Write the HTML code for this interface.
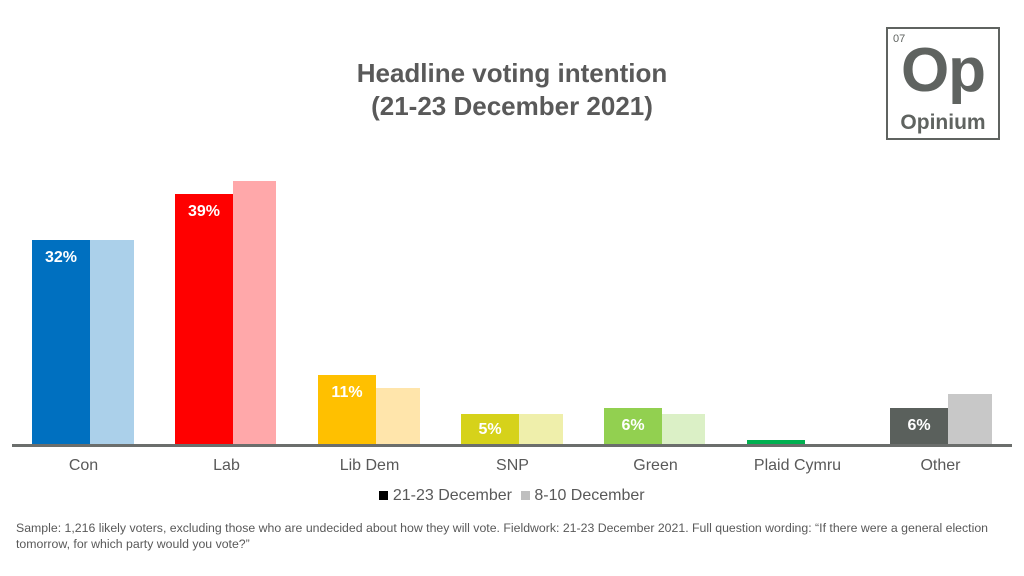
<!DOCTYPE html>
<html><head><style>
body{margin:0;width:1024px;height:576px;background:#fff;position:relative;overflow:hidden;font-family:"Liberation Sans",sans-serif}
.a{position:absolute}
.t{left:0;width:1024px;text-align:center;color:#595959;font-weight:bold;font-size:26px;line-height:33px}
.b{position:absolute}
.v{color:#fff;font-weight:bold;font-size:16px;text-align:center;padding-top:9px;box-sizing:border-box}
.l{position:absolute;top:457px;width:143px;text-align:center;font-size:16px;color:#595959}
</style></head><body>
<div class="a t" style="top:57px">Headline voting intention</div>
<div class="a t" style="top:90px">(21-23 December 2021)</div>
<div class="a" style="left:886px;top:27px;width:110px;height:109px;border:2px solid #5f6360">
<div class="a" style="left:5px;top:4px;font-size:11px;color:#5f6360">07</div>
<div class="a" style="left:0;width:110px;top:6px;text-align:center;font-size:62px;font-weight:bold;color:#5f6360;letter-spacing:-1px">Op</div>
<div class="a" style="left:0;width:110px;top:82px;text-align:center;font-size:21px;font-weight:bold;color:#5f6360">Opinium</div>
</div>
<div class="b v" style="left:32px;top:240px;width:58px;height:205px;background:#0070c0">32%</div>
<div class="b" style="left:90px;top:240px;width:44px;height:205px;background:#abd0ea"></div>
<div class="b v" style="left:175px;top:194px;width:58px;height:251px;background:#ff0000">39%</div>
<div class="b" style="left:233px;top:181px;width:43px;height:264px;background:#ffa8aa"></div>
<div class="b v" style="left:318px;top:375px;width:58px;height:70px;background:#ffc000">11%</div>
<div class="b" style="left:376px;top:388px;width:44px;height:57px;background:#ffe5ab"></div>
<div class="b v" style="left:461px;top:414px;width:58px;height:31px;background:#d6d21a;padding-top:7px">5%</div>
<div class="b" style="left:519px;top:414px;width:44px;height:31px;background:#efefab"></div>
<div class="b v" style="left:604px;top:408px;width:58px;height:37px;background:#92d050">6%</div>
<div class="b" style="left:662px;top:414px;width:43px;height:31px;background:#dbf0c6"></div>
<div class="b" style="left:747px;top:440px;width:58px;height:5px;background:#00b050"></div>
<div class="b v" style="left:890px;top:408px;width:58px;height:37px;background:#5a605c">6%</div>
<div class="b" style="left:948px;top:394px;width:44px;height:51px;background:#c8c8c8"></div>
<div class="a" style="left:12px;top:444px;width:1000px;height:3px;background:#6b6e6c"></div>
<div class="l" style="left:12px">Con</div>
<div class="l" style="left:155px">Lab</div>
<div class="l" style="left:298px">Lib Dem</div>
<div class="l" style="left:441px">SNP</div>
<div class="l" style="left:584px">Green</div>
<div class="l" style="left:726px">Plaid Cymru</div>
<div class="l" style="left:869px">Other</div>
<div class="a" style="left:0;width:1024px;top:487px;text-align:center;font-size:16px;color:#595959"><span style="display:inline-block;width:9px;height:9px;background:#000"></span> 21-23 December &nbsp;<span style="display:inline-block;width:9px;height:9px;background:#bfbfbf"></span> 8-10 December</div>
<div class="a" style="left:16px;top:520px;width:990px;font-size:12.3px;line-height:16px;color:#595959">Sample: 1,216 likely voters, excluding those who are undecided about how they will vote. Fieldwork: 21-23 December 2021. Full question wording: “If there were a general election tomorrow, for which party would you vote?”</div>
</body></html>
